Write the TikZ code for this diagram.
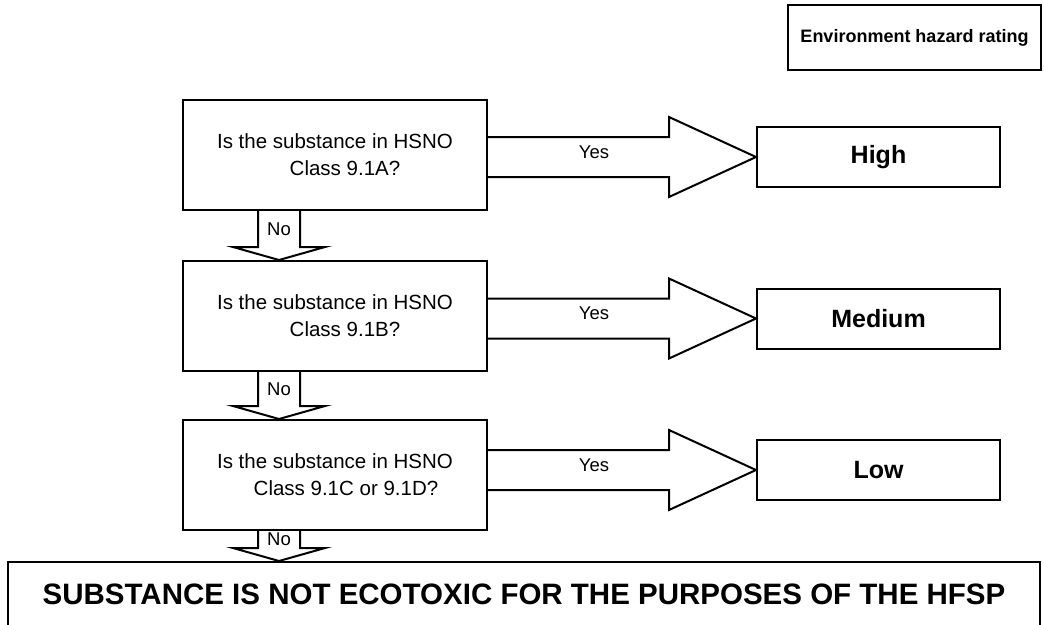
\documentclass[tikz,border=0pt]{standalone}
\usepackage{fontspec}
\setmainfont{Liberation Sans}
\usetikzlibrary{calc}
\begin{document}
\begin{tikzpicture}[x=1pt,y=-1pt,
  qbox/.style={draw, line width=2pt, minimum width=304pt, minimum height=110pt, inner sep=0pt, align=center, font=\fontsize{20.5}{27}\selectfont},
  rbox/.style={draw, line width=2pt, minimum width=243pt, minimum height=60pt, inner sep=0pt, font=\fontsize{25}{30}\selectfont\bfseries},
  lbl/.style={inner sep=0pt, font=\fontsize{18.5}{22}\selectfont},
  blockarrow/.style={line width=2pt, line join=miter}]
\useasboundingbox (0,0) rectangle (1044,624);
\node[draw, line width=2pt, minimum width=253pt, minimum height=65pt, inner sep=0pt, font=\fontsize{18}{22}\selectfont\bfseries] (rating) at (914.5,37.5) {Environment hazard rating};
% questions
\node[qbox] (q1) at (335,155) {Is the substance in HSNO\\\hspace*{20pt}Class 9.1A?};
\node[qbox] (q2) at (335,316) {Is the substance in HSNO\\\hspace*{20pt}Class 9.1B?};
\node[qbox] (q3) at (335,475) {Is the substance in HSNO\\\hspace*{22pt}Class 9.1C or 9.1D?};
% ratings
\node[rbox] (high) at (878.5,157) {High};
\node[rbox] (medium) at (878.5,318.5) {Medium};
\node[rbox] (low) at (878.5,470) {Low};
\node[draw, line width=2pt, minimum width=1032pt, minimum height=64pt, inner sep=0pt, font=\fontsize{29.5}{34}\selectfont\bfseries] (notox) at (524,594) {SUBSTANCE IS NOT ECOTOXIC FOR THE PURPOSES OF THE HFSP};
% no arrows
\foreach \a/\b in {q1/q2,q2/q3,q3/notox} {
  \draw[blockarrow] ([xshift=-77pt]\a.south) -- ([xshift=-77pt,yshift=13pt]\a.south |- \b.north) -- ([xshift=-102pt,yshift=13pt]\a.south |- \b.north) -- ([xshift=-56pt]\a.south |- \b.north) -- ([xshift=-10pt,yshift=13pt]\a.south |- \b.north) -- ([xshift=-35pt,yshift=13pt]\a.south |- \b.north) -- ([xshift=-35pt]\a.south);
  \node[lbl] (no\a) at ([xshift=-56pt]$(\a.south)!0.5!([yshift=13pt]\a.south |- \b.north)$) {No};
}
% yes arrows
\foreach \a/\b in {q1/high,q2/medium,q3/low} {
  \draw[blockarrow] ([yshift=20pt]\a.east |- \b.west) -- ([xshift=-87pt,yshift=20pt]\b.west) -- ([xshift=-87pt,yshift=40pt]\b.west) -- (\b.west) -- ([xshift=-87pt,yshift=-40pt]\b.west) -- ([xshift=-87pt,yshift=-20pt]\b.west) -- ([yshift=-20pt]\a.east |- \b.west);
  \node[lbl] (yes\a) at ([xshift=-162pt,yshift=5pt]\b.west) {Yes};
}
\end{tikzpicture}
\end{document}
